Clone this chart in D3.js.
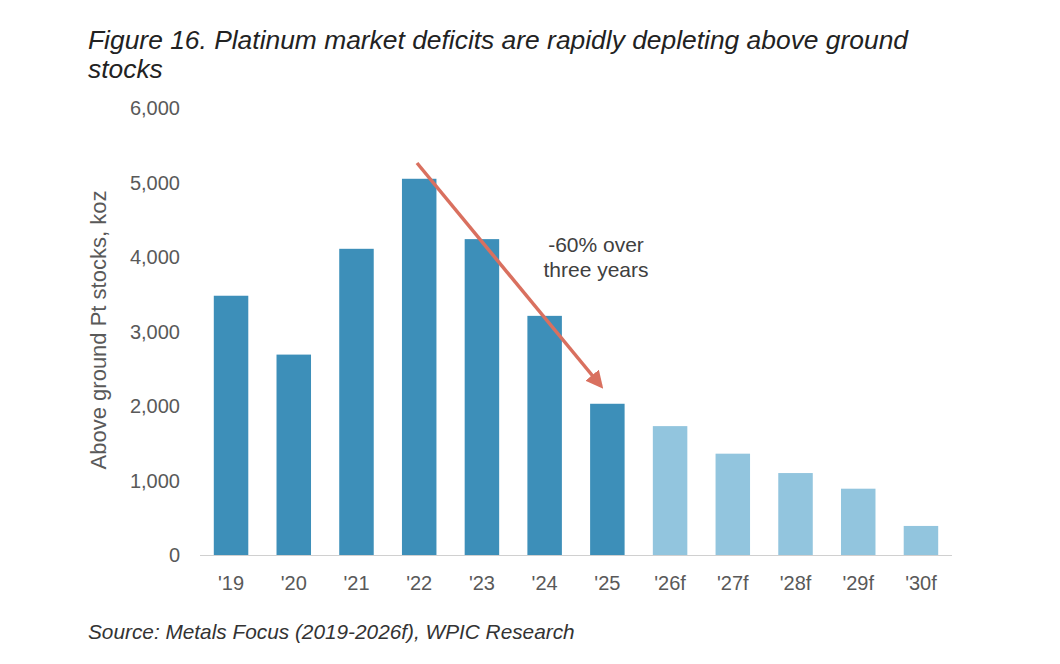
<!DOCTYPE html>
<html><head><meta charset="utf-8">
<script src="https://cdn.jsdelivr.net/npm/d3@7"></script>
<style>body{margin:0;background:#fff;font-family:"Liberation Sans",Arial,sans-serif;}</style>
</head><body><svg id="chart" width="1060" height="664"></svg>
<script>
var years = ["'19","'20","'21","'22","'23","'24","'25","'26f","'27f","'28f","'29f","'30f"];
var stocks = [3480, 2690, 4110, 5050, 4240, 3210, 2030, 1730, 1360, 1100, 890, 390];
var forecast = [false,false,false,false,false,false,false,true,true,true,true,true];
var yTicks = [0, 1000, 2000, 3000, 4000, 5000, 6000];

var svg = d3.select("#chart");
var x = d3.scaleBand().domain(years).range([200, 952]).paddingInner(0.45).paddingOuter(0.22);
var y = d3.scaleLinear().domain([0, 6000]).range([555, 108]);

// title
svg.append("text").attr("x", 88).attr("y", 49).attr("font-size", 26.4).attr("font-style", "italic").attr("fill", "#222")
  .text("Figure 16. Platinum market deficits are rapidly depleting above ground");
svg.append("text").attr("x", 88).attr("y", 78).attr("font-size", 26.4).attr("font-style", "italic").attr("fill", "#222")
  .text("stocks");

// y axis labels
svg.selectAll(".yt").data(yTicks).enter().append("text")
  .attr("x", 180).attr("y", d => y(d) + 7).attr("text-anchor", "end")
  .attr("font-size", 20).attr("fill", "#595959").text(d => d3.format(",")(d));

svg.append("text").attr("transform", "translate(106,330) rotate(-90)").attr("text-anchor", "middle")
  .attr("font-size", 22).attr("fill", "#595959").text("Above ground Pt stocks, koz");

// bars
svg.selectAll(".bar").data(years).enter().append("rect")
  .attr("x", d => x(d)).attr("width", x.bandwidth())
  .attr("y", (d, i) => y(stocks[i])).attr("height", (d, i) => y(0) - y(stocks[i]))
  .attr("fill", (d, i) => forecast[i] ? "#92c5de" : "#3d8fb9");

// x axis
svg.append("line").attr("x1", 200).attr("x2", 952).attr("y1", 555.5).attr("y2", 555.5).attr("stroke", "#d0d0d0");
svg.selectAll(".xt").data(years).enter().append("text")
  .attr("x", d => x(d) + x.bandwidth() / 2).attr("y", 590).attr("text-anchor", "middle")
  .attr("font-size", 20).attr("fill", "#595959").text(d => d);

// arrow
svg.append("defs").append("marker").attr("id", "ah").attr("viewBox", "0 0 10 10")
  .attr("refX", 8).attr("refY", 5).attr("markerWidth", 5).attr("markerHeight", 5).attr("orient", "auto")
  .append("path").attr("d", "M0,0 L10,5 L0,10 z").attr("fill", "#d9705f");
svg.append("line").attr("x1", 417).attr("y1", 163).attr("x2", 601).attr("y2", 386)
  .attr("stroke", "#d9705f").attr("stroke-width", 3.5).attr("marker-end", "url(#ah)");

svg.append("text").attr("x", 596).attr("y", 252).attr("text-anchor", "middle").attr("font-size", 21).attr("fill", "#404040").text("-60% over");
svg.append("text").attr("x", 596).attr("y", 277).attr("text-anchor", "middle").attr("font-size", 21).attr("fill", "#404040").text("three years");

// source
svg.append("text").attr("x", 88).attr("y", 639).attr("font-size", 20.8).attr("font-style", "italic").attr("fill", "#333")
  .text("Source: Metals Focus (2019-2026f), WPIC Research");
</script></body></html>
